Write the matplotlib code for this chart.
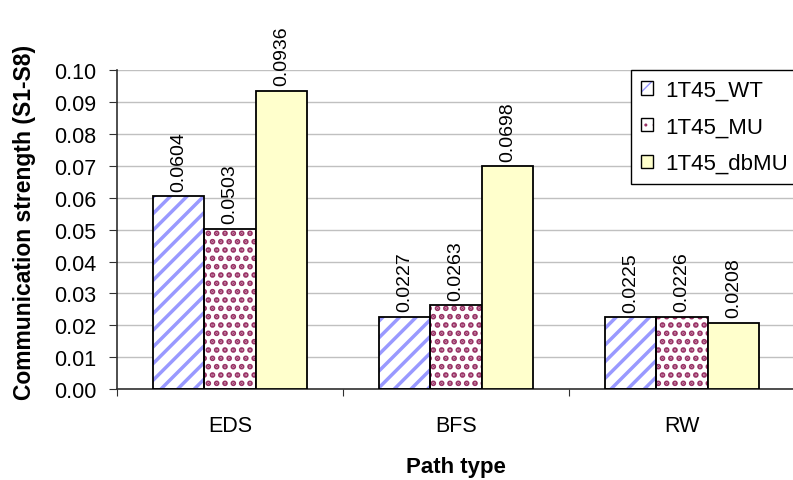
import matplotlib
matplotlib.use('Agg')
import matplotlib.pyplot as plt
from matplotlib.patches import Patch
import numpy as np

# Chart data
categories = ['EDS', 'BFS', 'RW']
series_names = ['1T45_WT', '1T45_MU', '1T45_dbMU']
wt_values = [0.0604, 0.0227, 0.0225]
mu_values = [0.0503, 0.0263, 0.0226]
dbmu_values = [0.0936, 0.0698, 0.0208]
y_ticks = [0.00, 0.01, 0.02, 0.03, 0.04, 0.05, 0.06, 0.07, 0.08, 0.09, 0.10]

plt.rcParams['font.family'] = ['Liberation Sans', 'DejaVu Sans']

fig = plt.figure(figsize=(7.93, 4.81), dpi=100)
ax = fig.add_axes([0.1475, 0.189, 0.855, 0.663])

x = np.arange(len(categories))
width = 0.228

# (values, face, hatch, hatch colour, hatch linewidth)
styles = [
    (wt_values, 'white', '//', '#9999FF', 2.5),
    (mu_values, 'white', '..', '#993366', 2.8),
    (dbmu_values, '#FFFFCC', None, None, None),
]


def hatched(artists, lw):
    for a in artists:
        if hasattr(a, 'set_hatch_linewidth'):
            a.set_hatch_linewidth(lw)


legend_handles = []
for i, (vals, face, hatch, hcol, hlw) in enumerate(styles):
    pos = x + (i - 1) * width
    if hatch:
        with plt.rc_context({'hatch.linewidth': hlw}):
            bars = ax.bar(pos, vals, width, color=face, hatch=hatch, edgecolor=hcol,
                          linewidth=0, zorder=2)
            hatched(bars, hlw)
            h_fill = Patch(facecolor=face, hatch=hatch, edgecolor=hcol, linewidth=0)
            hatched([h_fill], hlw)
        ax.bar(pos, vals, width, fill=False, edgecolor='black', linewidth=1.3, zorder=3)
        legend_handles.append((h_fill, Patch(fill=False, edgecolor='black', linewidth=1.0)))
    else:
        ax.bar(pos, vals, width, color=face, edgecolor='black', linewidth=1.3, zorder=3)
        legend_handles.append(Patch(facecolor=face, edgecolor='black', linewidth=1.0))
    for px, v in zip(pos, vals):
        ax.annotate(f'{v:.4f}', (px, v), xytext=(0, 4), textcoords='offset points',
                    rotation=90, ha='center', va='bottom', fontsize=14, clip_on=False)

ax.set_xlim(-0.5, 2.5)
ax.set_ylim(0, 0.10)
ax.set_yticks(y_ticks)
ax.set_yticklabels([f'{t:.2f}' for t in y_ticks])
ax.yaxis.grid(True, color='#C0C0C0', linewidth=1, zorder=0)
ax.set_axisbelow(True)

# category boundaries as major ticks, names as minor ticks
ax.set_xticks([-0.5, 0.5, 1.5, 2.5])
ax.set_xticklabels([])
ax.set_xticks(x, minor=True)
ax.set_xticklabels(categories, minor=True)
ax.tick_params(axis='x', which='minor', length=0, pad=19, labelsize=15.5)
ax.tick_params(axis='x', which='major', length=5, color='#303030')
ax.tick_params(axis='y', length=5.8, pad=9, labelsize=15.5, color='#303030')

for side in ['top', 'right']:
    ax.spines[side].set_visible(False)
for side in ['left', 'bottom']:
    ax.spines[side].set_color('#303030')
    ax.spines[side].set_linewidth(1.2)

ax.set_xlabel('Path type', fontsize=16, fontweight='bold')
ax.xaxis.set_label_coords(0.5, -0.21)
ax.set_ylabel('Communication strength (S1-S8)', fontsize=16.5, fontweight='bold')
ax.yaxis.set_label_coords(-0.137, 0.527)
ax.yaxis.label.set_va('center')

leg = ax.legend(legend_handles, series_names, loc='upper left',
                bbox_to_anchor=(631 / 793, 1 - 71 / 481), bbox_transform=fig.transFigure,
                fontsize=16, handlelength=0.55, handleheight=0.55, handletextpad=0.55,
                labelspacing=0.7, borderpad=0.45, borderaxespad=0, fancybox=False,
                framealpha=1, edgecolor='black')
leg.get_frame().set_linewidth(1.0)

fig.savefig('out.png', dpi=100)
